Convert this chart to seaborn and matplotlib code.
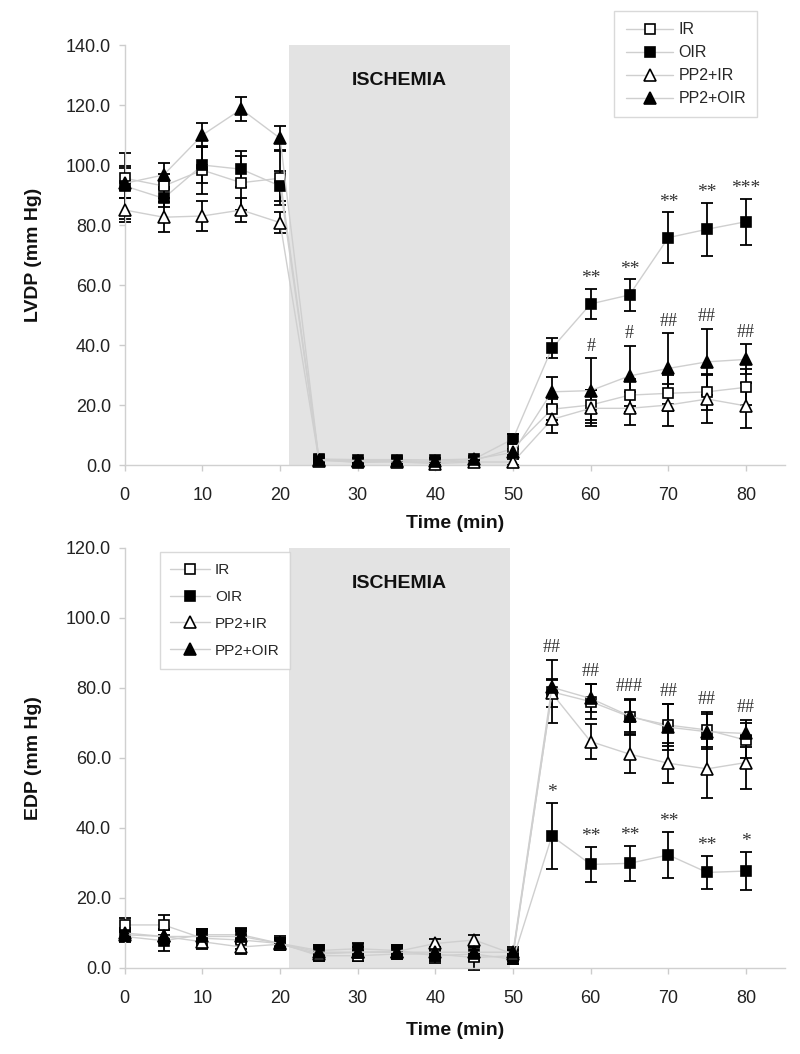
import numpy as np
import pandas as pd
import matplotlib
matplotlib.use("Agg")
import matplotlib.pyplot as plt
import seaborn as sns

# -------------------------------
# Data
# -------------------------------
time = [0, 5, 10, 15, 20, 25, 30, 35, 40, 45, 50, 55, 60, 65, 70, 75, 80]
groups = ["IR", "OIR", "PP2+IR", "PP2+OIR"]

lvdp_ir = [95.6, 93.0, 98.3, 94.1, 95.6, 1.8, 0.8, 1.2, 0.8, 1.5, 5.5, 18.6, 20.0, 23.3, 23.9, 24.4, 25.9]
lvdp_ir_err = [4, 4, 8, 9, 9, 0.5, 0.5, 0.5, 0.5, 0.8, 2, 3.5, 5, 5.5, 6, 6, 6]
lvdp_oir = [93.0, 88.9, 100.0, 98.6, 93.0, 2.0, 1.8, 1.8, 1.7, 2.0, 8.7, 38.9, 53.7, 56.7, 75.8, 78.6, 81.1]
lvdp_oir_err = [11, 3, 6, 6, 5, 0.5, 0.5, 0.5, 0.5, 0.5, 1.5, 3.3, 5, 5.3, 8.5, 8.8, 7.7]
lvdp_pp2ir = [85.0, 82.6, 83.0, 85.0, 80.8, 1.5, 1.2, 1.0, 0.5, 1.0, 1.0, 15.2, 18.9, 18.9, 20.0, 22.0, 19.7]
lvdp_pp2ir_err = [4, 5, 5, 4, 3.4, 0.5, 0.5, 0.5, 0.5, 0.5, 1, 4.5, 6, 5.5, 7, 8, 7.5]
lvdp_pp2oir = [93.9, 96.7, 110.0, 118.6, 108.9, 1.8, 1.5, 1.5, 1.2, 2.0, 4.2, 24.4, 24.8, 29.7, 32.2, 34.4, 35.2]
lvdp_pp2oir_err = [5, 4, 4, 4, 4, 0.5, 0.5, 0.5, 0.5, 0.5, 1, 5, 10.8, 10, 11.7, 11, 5]

edp_ir = [12.3, 12.3, 8.5, 8.0, 7.0, 3.5, 3.5, 4.0, 4.0, 3.0, 3.5, 78.9, 76.1, 71.8, 69.4, 68.0, 65.1]
edp_ir_err = [2, 2.8, 2, 2.5, 2, 1.5, 1.5, 1.5, 2, 3.5, 1.5, 9, 5, 5, 6, 5, 5]
edp_oir = [9.0, 7.8, 9.5, 9.5, 7.0, 5.0, 5.5, 5.0, 3.5, 4.0, 2.5, 37.7, 29.6, 29.9, 32.3, 27.3, 27.7]
edp_oir_err = [1.5, 3, 1.5, 2, 1.5, 1.5, 1.5, 1.5, 2, 2, 1.5, 9.4, 5, 5, 6.6, 4.8, 5.4]
edp_pp2ir = [10.0, 9.0, 7.5, 6.0, 6.8, 4.0, 4.5, 4.7, 7.0, 8.0, 4.0, 78.5, 64.7, 61.1, 58.5, 56.9, 58.7]
edp_pp2ir_err = [1.5, 2, 2, 2, 1.5, 1.5, 1.5, 1.5, 1.2, 1.4, 1.5, 4, 5, 5.5, 5.7, 8.4, 7.6]
edp_pp2oir = [9.5, 9.0, 9.0, 9.0, 7.0, 4.5, 4.5, 4.5, 4.5, 4.5, 4.5, 80.2, 77.0, 72.0, 68.8, 67.5, 67.0]
edp_pp2oir_err = [1.5, 2, 2, 2, 1.5, 1.5, 1.5, 1.5, 1.5, 1.5, 1.5, 2, 4, 4.6, 6.5, 5, 3.9]

# significance marks: (time, text)
lvdp_stars = [(60, "**"), (65, "**"), (70, "**"), (75, "**"), (80, "***")]
lvdp_hash = [(60, "#"), (65, "#"), (70, "##"), (75, "##"), (80, "##")]
edp_stars = [(55, "*"), (60, "**"), (65, "**"), (70, "**"), (75, "**"), (80, "*")]
edp_hash = [(55, "##"), (60, "##"), (65, "###"), (70, "##"), (75, "##"), (80, "##")]

ischemia = (21.2, 49.6)

# -------------------------------
# Style
# -------------------------------
sns.set_style("white")
plt.rcParams["font.family"] = ["Liberation Sans", "DejaVu Sans"]

styles = {
    "IR": dict(marker="s", mfc="white", ms=7.5),
    "OIR": dict(marker="s", mfc="black", ms=7.5),
    "PP2+IR": dict(marker="^", mfc="white", ms=8.5),
    "PP2+OIR": dict(marker="^", mfc="black", ms=8.5),
}


def draw_panel(ax, means, errs, ymax, ylabel, stars, hashes, hash_groups, xlab_y, legend_kw):
    ax.axvspan(ischemia[0], ischemia[1], ymin=0, ymax=1, color="#e3e3e3", lw=0, zorder=0)

    for g in groups:
        ax.errorbar(time, means[g], yerr=errs[g], fmt="none", ecolor="black",
                    elinewidth=1.3, capsize=4, capthick=1.3, zorder=2, clip_on=False)
    for g in groups:
        st = styles[g]
        sns.lineplot(x=time, y=means[g], ax=ax, color="#cfcfcf", lw=1,
                     marker=st["marker"], markersize=st["ms"],
                     markerfacecolor=st["mfc"], markeredgecolor="black",
                     markeredgewidth=1.2, label=g, zorder=3, clip_on=False)

    # significance labels
    for t, txt in stars:
        i = time.index(t)
        y = means["OIR"][i] + errs["OIR"][i]
        ax.text(t, y + 0.5, txt, ha="center", va="bottom", fontsize=14,
                family="Liberation Serif", color="#333333")
    for t, txt in hashes:
        i = time.index(t)
        y = max(means[g][i] + errs[g][i] for g in hash_groups)
        ax.text(t, y + 1.2, txt, ha="center", va="bottom", fontsize=13,
                family="Liberation Serif", color="#333333")

    ax.text(sum(ischemia) / 2, ymax * 0.915, "ISCHEMIA", ha="center", va="center",
            fontsize=14, fontweight="bold", color="#111111")

    ax.set_xlim(0, 85)
    ax.set_ylim(0, ymax)
    ax.set_xticks(range(0, 81, 10))
    ax.set_yticks(np.arange(0, ymax + 1, 20))
    ax.set_yticklabels([f"{v:.1f}" for v in np.arange(0, ymax + 1, 20)])
    ax.tick_params(axis="both", labelsize=13, colors="#cccccc", labelcolor="#222222",
                   length=4, width=1, direction="out", left=True, bottom=True)
    ax.tick_params(axis="y", pad=6)
    ax.tick_params(axis="x", pad=12)
    for s in ["top", "right"]:
        ax.spines[s].set_visible(False)
    for s in ["left", "bottom"]:
        ax.spines[s].set_color("#d0d0d0")
        ax.spines[s].set_linewidth(1)

    ax.set_xlabel("Time (min)", fontsize=14, fontweight="bold", color="#111111")
    ax.set_ylabel(ylabel, fontsize=14, fontweight="bold", color="#111111")
    ax.yaxis.set_label_coords(-0.125, 0.5)
    ax.xaxis.set_label_coords(0.5, xlab_y)

    leg = ax.legend(frameon=True, fancybox=False, borderaxespad=0,
                    handletextpad=0.3, borderpad=0.7, **legend_kw)
    leg.get_frame().set_edgecolor("#d0d0d0")
    leg.get_frame().set_linewidth(1)
    leg.set_zorder(5)


fig = plt.figure(figsize=(8, 10.54), dpi=100)
ax1 = fig.add_axes([0.156, 0.5588, 0.825, 0.3985])
ax2 = fig.add_axes([0.156, 0.0816, 0.825, 0.3985])

lvdp = {"IR": lvdp_ir, "OIR": lvdp_oir, "PP2+IR": lvdp_pp2ir, "PP2+OIR": lvdp_pp2oir}
lvdp_e = {"IR": lvdp_ir_err, "OIR": lvdp_oir_err, "PP2+IR": lvdp_pp2ir_err, "PP2+OIR": lvdp_pp2oir_err}
edp = {"IR": edp_ir, "OIR": edp_oir, "PP2+IR": edp_pp2ir, "PP2+OIR": edp_pp2oir}
edp_e = {"IR": edp_ir_err, "OIR": edp_oir_err, "PP2+IR": edp_pp2ir_err, "PP2+OIR": edp_pp2oir_err}

draw_panel(ax1, lvdp, lvdp_e, 140, "LVDP (mm Hg)", lvdp_stars, lvdp_hash, ["PP2+OIR"], -0.118,
           dict(loc="upper right", bbox_to_anchor=(0.958, 1.081), labelspacing=0.5,
                fontsize=11.5, handlelength=3.0))
draw_panel(ax2, edp, edp_e, 120, "EDP (mm Hg)", edp_stars, edp_hash, ["IR", "PP2+IR", "PP2+OIR"], -0.128,
           dict(loc="upper left", bbox_to_anchor=(0.053, 0.99), labelspacing=0.85,
                fontsize=11, handlelength=2.6))

fig.savefig("out.png", dpi=100)
